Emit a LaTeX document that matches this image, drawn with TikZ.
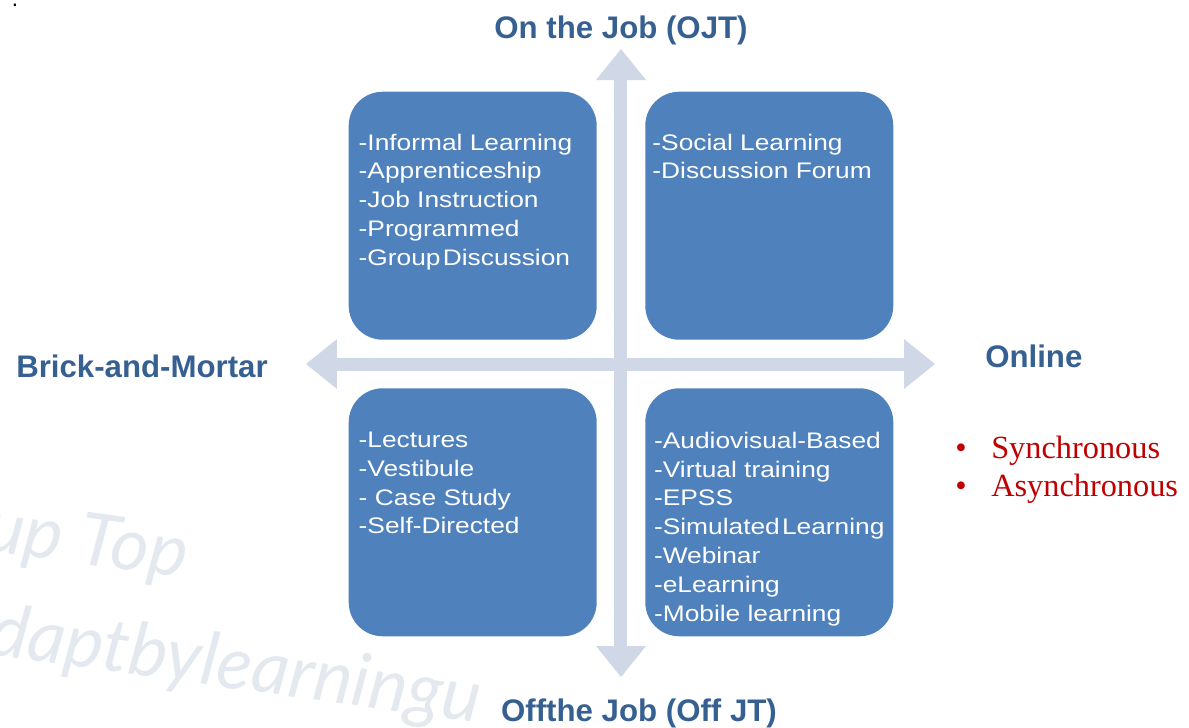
\documentclass[tikz,border=0pt]{standalone}
\usepackage{fontspec}
\setmainfont{Liberation Sans}
\newfontfamily\boxfont[FakeStretch=1.17]{Liberation Sans}
\newfontfamily\bulletfont{Liberation Serif}
\newfontfamily\markfont{Lato}
\usetikzlibrary{positioning}
\usetikzlibrary{arrows.meta}

\definecolor{quadblue}{RGB}{79,129,189}
\definecolor{axisgray}{RGB}{208,216,232}
\definecolor{headblue}{RGB}{54,96,146}
\definecolor{bulletred}{RGB}{192,0,0}
\definecolor{markgray}{RGB}{228,233,240}

\begin{document}
\begin{tikzpicture}[
  quad/.style={rectangle,fill=quadblue,rounded corners=0.85cm,
    minimum width=6.2cm,minimum height=6.2cm,inner sep=0pt},
  items/.style={inner sep=0pt,align=left,text=white,
    font=\boxfont\fontsize{16}{20.5}\selectfont},
  heading/.style={inner sep=0pt,text=headblue,
    font=\bfseries\fontsize{22.2}{26}\selectfont},
  axis/.style={line width=0.325cm,draw=axisgray,
    {Triangle[length=0.775cm,width=1.25cm,line width=0pt]}-{Triangle[length=0.775cm,width=1.25cm,line width=0pt]}},
  modes/.style={anchor=north west,inner sep=0pt,align=left,text=bulletred,
    font=\bulletfont\fontsize{23}{27}\selectfont},
  wmark/.style={anchor=base west,inner sep=0pt,rotate=-8,text=markgray}]

  \useasboundingbox (-15.525,-9.075) rectangle (14.2,9.1);
  \clip (-15.525,-9.075) rectangle (14.2,9.1);

  \node[anchor=base,inner sep=0pt,font=\fontsize{16}{16}\selectfont] (dot) at (-15.15,8.93) {.};

  % watermark behind everything
  \node[wmark,font=\markfont\itshape\fontsize{52}{52}\selectfont] (wm1) at (-15.95,-4.65) {up Top};
  \node[wmark,font=\markfont\itshape\fontsize{52}{52}\selectfont] (wm2) at (-15.85,-7.25) {daptbylearningu};

  % axes
  \coordinate (c) at (0,0);
  \coordinate[left=7.875cm of c] (w);
  \coordinate[right=7.85cm of c] (e);
  \coordinate[above=7.875cm of c] (n);
  \coordinate[below=7.825cm of c] (s);

  \draw[axis] (w) -- (e);
  \draw[axis] (s) -- (n);

  % quadrants
  \node[quad] (tl) [above left=0.6cm and 0.6cm of c] {};
  \node[quad] (tr) [above right=0.6cm and 0.6cm of c] {};
  \node[quad] (bl) [below left=0.6cm and 0.6cm of c] {};
  \node[quad] (br) [below right=0.6cm and 0.6cm of c] {};

  \node[items] (tltext) [below right=1.05cm and 0.25cm of tl.north west]
    {-Informal Learning\\-Apprenticeship\\-Job Instruction\\-Programmed\\-Group\hspace{0.1em}Discussion};
  \node[items] (trtext) [below right=1.05cm and 0.18cm of tr.north west]
    {-Social Learning\\-Discussion Forum};
  \node[items] (bltext) [below right=1.09cm and 0.25cm of bl.north west]
    {-Lectures\\-Vestibule\\- Case Study\\-Self-Directed};
  \node[items] (brtext) [below right=1.09cm and 0.22cm of br.north west]
    {-Audiovisual-Based\\-Virtual training\\-EPSS\\-Simulated\hspace{0.1em}Learning\\-Webinar\\-eLearning\\-Mobile learning};

  % axis labels
  \node[heading] (ojt) [above=0.09cm of n] {On the Job (OJT)};
  \node[heading] (offjt) [below=0.54cm of s, xshift=0.45cm] {Offthe Job (Off JT)};
  \node[heading] (brick) [left=0.95cm of w, yshift=-0.05cm] {Brick-and-Mortar};
  \node[heading] (online) [right=1.25cm of e, yshift=0.2cm] {Online};

  \node[modes] (sync) at ([xshift=-0.75cm,yshift=-1.7cm]online.south west)
    {\makebox[0.9cm][l]{\textbullet}Synchronous\\\makebox[0.9cm][l]{\textbullet}Asynchronous};

\end{tikzpicture}
\end{document}
